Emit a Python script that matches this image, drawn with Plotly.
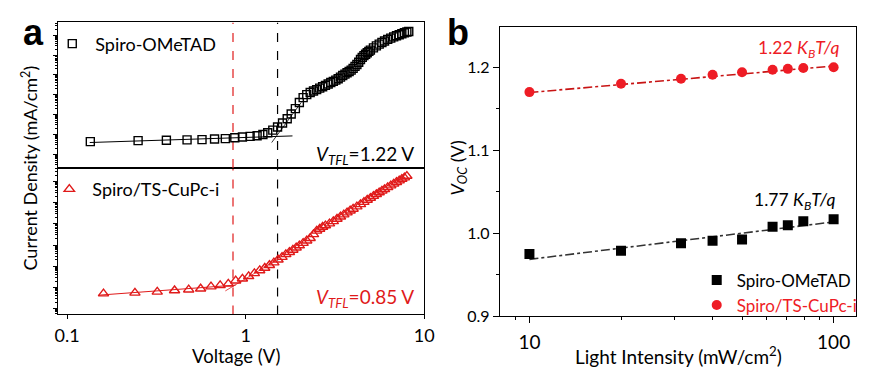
import plotly.graph_objects as go

# ---------------- Panel a data (J-V, log-log) ----------------
v_spiro = [0.135, 0.25, 0.36, 0.47, 0.57, 0.67, 0.77, 0.87, 0.96, 1.06, 1.16, 1.25, 1.33, 1.42,
           1.51, 1.61, 1.71, 1.80, 1.90, 2.00, 2.10, 2.20, 2.30, 2.40, 2.50, 2.60, 2.70, 2.80,
           2.90, 3.00, 3.10, 3.20, 3.30, 3.40, 3.50, 3.60, 3.70, 3.80, 3.90, 4.00, 4.10, 4.20,
           4.30, 4.40, 4.50, 4.60, 4.70, 4.80, 4.90, 5.00, 5.20, 5.40, 5.60, 5.80, 6.00, 6.25,
           6.50, 6.75, 7.00, 7.25, 7.50, 7.75, 8.00, 8.20]
j_spiro = [4.35e-5, 4.89e-5, 5.05e-5, 5.28e-5, 5.47e-5, 5.92e-5, 6.12e-5, 6.85e-5, 7.43e-5,
           7.94e-5, 8.61e-5, 9.97e-5, 1.21e-4, 1.64e-4, 2.38e-4, 3.75e-4, 6.11e-4, 1.07e-3,
           2.0e-3, 4.05e-3, 7.13e-3, 1.01e-2, 1.29e-2, 1.54e-2, 1.80e-2, 2.14e-2, 2.51e-2,
           2.94e-2, 3.48e-2, 4.12e-2, 4.72e-2, 5.41e-2, 6.34e-2, 7.69e-2, 9.31e-2, 0.109,
           0.128, 0.147, 0.174, 0.213, 0.267, 0.335, 0.431, 0.590, 0.759, 0.929, 1.10, 1.31,
           1.53, 1.77, 2.30, 2.88, 3.53, 4.29, 5.08, 6.15, 7.13, 8.17, 9.27, 10.5, 11.7, 13.2,
           14.4, 15.4]

v_cupc = [0.16, 0.24, 0.32, 0.40, 0.48, 0.56, 0.64, 0.72, 0.80, 0.88, 0.96, 1.04, 1.12, 1.20,
          1.28, 1.36, 1.44, 1.52, 1.60, 1.68, 1.76, 1.84, 1.92, 2.00, 2.10, 2.20, 2.30, 2.40,
          2.50, 2.60, 2.70, 2.80, 2.95, 3.10, 3.25, 3.40, 3.55, 3.70, 3.85, 4.00, 4.20, 4.40,
          4.60, 4.80, 5.00, 5.20, 5.40, 5.60, 5.80, 6.00, 6.25, 6.50, 6.75, 7.00, 7.25, 7.50,
          7.75, 8.00]
j_cupc = [5.08e-5, 5.47e-5, 6.10e-5, 7.15e-5, 7.78e-5, 8.65e-5, 1.09e-4, 1.24e-4, 1.47e-4,
          2.07e-4, 2.55e-4, 3.33e-4, 4.58e-4, 6.31e-4, 8.22e-4, 1.11e-3, 1.48e-3, 2.03e-3,
          2.70e-3, 3.61e-3, 4.60e-3, 5.88e-3, 7.50e-3, 9.46e-3, 1.24e-2, 1.61e-2, 2.10e-2,
          3.21e-2, 4.67e-2, 5.77e-2, 7.13e-2, 8.37e-2, 0.1035, 0.132, 0.171, 0.218, 0.275,
          0.340, 0.421, 0.509, 0.658, 0.839, 1.07, 1.35, 1.67, 2.05, 2.51, 3.04, 3.64, 4.31,
          5.33, 6.46, 7.82, 9.36, 11.1, 13.2, 15.4, 18.3]

# fit lines (V, J)
fit_spiro_ohm_v = [0.134, 1.83]
fit_spiro_ohm_j = [3.9e-5, 8.4e-5]
fit_spiro_tfl_v = [1.40, 2.05]
fit_spiro_tfl_j = [3.9e-5, 4.1e-3]
fit_cupc_ohm_v = [0.150, 0.88]
fit_cupc_ohm_j = [4.28e-5, 1.28e-4]
fit_cupc_tfl_v = [0.77, 1.50]
fit_cupc_tfl_j = [6.8e-5, 2.03e-3]

vtfl_lines = [0.85, 1.51]          # dashed vertical markers (red, black)
vtfl_labels = ["1.22 V", "0.85 V"]

x_range_a = [-1.05, 1.0]          # log10 range
y_range_top = [-5.689, 1.640]
y_range_bot = [-5.277, 1.645]

# ---------------- Panel b data (Voc vs light intensity) ----------------
intensity = [10, 20, 31.5, 40, 50, 63, 70.7, 79.5, 100]
voc_spiro = [0.975, 0.979, 0.988, 0.991, 0.9925, 1.008, 1.0098, 1.0145, 1.017]
voc_cupc = [1.170, 1.180, 1.186, 1.191, 1.194, 1.197, 1.198, 1.199, 1.200]
fit_int = [10, 100]
fit_voc_spiro = [0.9686, 1.0137]
fit_voc_cupc = [1.1695, 1.2015]
slope_labels = ["1.77", "1.22"]

x_range_b = [0.903, 2.074]
y_range_b = [0.9, 1.248]

W, H = 874, 381
FONT = "Lato"
RED = "#e01a1a"
RED_B = "#ee1c25"

def px(x):
    return x / W

def py(y):
    return 1 - y / H

fig = go.Figure()

# --- top panel (x2, y2)
fig.add_trace(go.Scatter(x=fit_spiro_ohm_v, y=fit_spiro_ohm_j, mode="lines",
                         line=dict(color="black", width=1), xaxis="x2", yaxis="y2", showlegend=False))
fig.add_trace(go.Scatter(x=fit_spiro_tfl_v, y=fit_spiro_tfl_j, mode="lines",
                         line=dict(color="black", width=0.8), xaxis="x2", yaxis="y2", showlegend=False))
for xv, col in zip(vtfl_lines, [RED, "black"]):
    fig.add_trace(go.Scatter(x=[xv, xv], y=[10 ** y_range_top[0], 10 ** y_range_top[1]], mode="lines",
                             line=dict(color=col, width=1.2, dash="dash"), xaxis="x2", yaxis="y2",
                             showlegend=False))
    fig.add_trace(go.Scatter(x=[xv, xv], y=[10 ** y_range_bot[0], 10 ** y_range_bot[1]], mode="lines",
                             line=dict(color=col, width=1.2, dash="dash"), xaxis="x", yaxis="y",
                             showlegend=False))
fig.add_trace(go.Scatter(x=v_spiro, y=j_spiro, mode="markers", name="Spiro-OMeTAD",
                         marker=dict(symbol="square-open", size=8, color="black", line=dict(width=1.4)),
                         xaxis="x2", yaxis="y2", legend="legend"))

# --- bottom panel (x, y)
fig.add_trace(go.Scatter(x=fit_cupc_ohm_v, y=fit_cupc_ohm_j, mode="lines",
                         line=dict(color=RED, width=1), xaxis="x", yaxis="y", showlegend=False))
fig.add_trace(go.Scatter(x=fit_cupc_tfl_v, y=fit_cupc_tfl_j, mode="lines",
                         line=dict(color=RED, width=0.8), xaxis="x", yaxis="y", showlegend=False))
fig.add_trace(go.Scatter(x=v_cupc, y=j_cupc, mode="markers", name="Spiro/TS-CuPc-i",
                         marker=dict(symbol="triangle-up-open", size=9, color=RED, line=dict(width=1.4)),
                         xaxis="x", yaxis="y", legend="legend2"))

# --- panel b (x3, y3)
fig.add_trace(go.Scatter(x=fit_int, y=fit_voc_cupc, mode="lines",
                         line=dict(color="#c81414", width=1.6, dash="dashdot"),
                         xaxis="x3", yaxis="y3", showlegend=False))
fig.add_trace(go.Scatter(x=fit_int, y=fit_voc_spiro, mode="lines",
                         line=dict(color="#333333", width=1.6, dash="dashdot"),
                         xaxis="x3", yaxis="y3", showlegend=False))
fig.add_trace(go.Scatter(x=intensity, y=voc_spiro, mode="markers", name="Spiro-OMeTAD",
                         marker=dict(symbol="square", size=10, color="black"),
                         xaxis="x3", yaxis="y3", legend="legend3"))
fig.add_trace(go.Scatter(x=intensity, y=voc_cupc, mode="markers",
                         name="<span style='color:%s'>Spiro/TS-CuPc-i</span>" % RED_B,
                         marker=dict(symbol="circle", size=10, color=RED_B),
                         xaxis="x3", yaxis="y3", legend="legend3"))

axis_common = dict(showline=True, linecolor="black", linewidth=1.2, showgrid=False, zeroline=False,
                   mirror=True, tickcolor="black")

a_dom = [px(55), px(427)]
fig.update_layout(
    width=W, height=H, autosize=False,
    margin=dict(l=0, r=0, t=0, b=0),
    paper_bgcolor="white", plot_bgcolor="white",
    font=dict(family=FONT, color="black", size=18),
    xaxis=dict(axis_common, type="log", domain=a_dom, range=x_range_a, anchor="y",
               ticks="outside", ticklen=4, tickwidth=1.2, tickvals=[0.1, 1, 10],
               ticktext=["0.1", "1", "10"], tickfont=dict(size=18), ticklabelstandoff=1),
    yaxis=dict(axis_common, type="log", domain=[py(322), py(172)], range=y_range_bot, anchor="x",
               ticks="outside", ticklen=4, tickwidth=1.2, dtick=1, showticklabels=False,
               minor=dict(ticks="outside", ticklen=2, tickcolor="black")),
    xaxis2=dict(axis_common, type="log", domain=a_dom, range=x_range_a, anchor="y2",
                matches="x", ticks="", showticklabels=False),
    yaxis2=dict(axis_common, type="log", domain=[py(172), py(23)], range=y_range_top, anchor="x2",
                ticks="outside", ticklen=4, tickwidth=1.2, dtick=1, showticklabels=False,
                minor=dict(ticks="outside", ticklen=2, tickcolor="black")),
    xaxis3=dict(axis_common, type="log", domain=[px(504), px(866)], range=x_range_b, anchor="y3",
                ticks="outside", ticklen=6, tickwidth=1.2, tickvals=[10, 100], ticktext=["10", "100"],
                tickfont=dict(size=19), ticklabelstandoff=3,
                minor=dict(ticks="outside", ticklen=3, tickcolor="black",
                           tickvals=[9, 20, 30, 40, 50, 60, 70, 80, 90])),
    yaxis3=dict(axis_common, domain=[py(324), py(28)], range=y_range_b, anchor="x3",
                ticks="outside", ticklen=6, tickwidth=1.2, tickvals=[0.9, 1.0, 1.1, 1.2],
                ticktext=["0.9", "1.0", "1.1", "1.2"], tickfont=dict(size=16),
                minor=dict(ticks="outside", ticklen=3, tickcolor="black", dtick=0.05)),
    legend=dict(x=px(46), y=py(45), xanchor="left", yanchor="middle", bgcolor="rgba(0,0,0,0)",
                font=dict(size=18), itemwidth=36),
    legend2=dict(x=px(43), y=py(194), xanchor="left", yanchor="middle", bgcolor="rgba(0,0,0,0)",
                 font=dict(size=18), itemwidth=36),
    legend3=dict(x=px(704), y=py(300), xanchor="left", yanchor="middle", bgcolor="rgba(0,0,0,0)",
                 font=dict(size=17)),
)

ann = []
ann.append(dict(text="<b>a</b>", x=px(30), y=py(33), font=dict(family="Liberation Sans", size=36)))
ann.append(dict(text="<b>b</b>", x=px(461), y=py(33), font=dict(family="Liberation Sans", size=36)))
ann.append(dict(text="Current Density (mA/cm<sup>2</sup>)", x=px(26), y=py(172), textangle=-90,
                font=dict(size=18)))
ann.append(dict(text="Voltage (V)", x=px(236), y=py(365), font=dict(size=18.5)))
ann.append(dict(text="Light Intensity (mW/cm<sup>2</sup>)", x=px(685), y=py(364), font=dict(size=19)))
ann.append(dict(text="<i>V</i><sub><i>OC</i></sub> (V)", x=px(462), y=py(172), textangle=-90,
                font=dict(size=18)))
ann.append(dict(text="<i>V</i><sub><i>TFL</i></sub>=" + vtfl_labels[0], x=px(419), y=py(159),
                xanchor="right", font=dict(size=19)))
ann.append(dict(text="<i>V</i><sub><i>TFL</i></sub>=" + vtfl_labels[1], x=px(419), y=py(305),
                xanchor="right", font=dict(size=19, color=RED)))
ann.append(dict(text=slope_labels[1] + " <i>K</i><sub><i>B</i></sub><i>T/q</i>", x=px(851), y=py(50),
                xanchor="right", font=dict(size=17.5, color=RED_B)))
ann.append(dict(text=slope_labels[0] + " <i>K</i><sub><i>B</i></sub><i>T/q</i>", x=px(847), y=py(206),
                xanchor="right", font=dict(size=17.5)))
for a in ann:
    a.setdefault("xanchor", "center")
    a.update(xref="paper", yref="paper", showarrow=False, yanchor="middle")
fig.update_layout(annotations=ann)

post = ("document.documentElement.style.margin='0px';"
        "document.body.style.margin='0px';"
        "document.documentElement.style.overflow='hidden';"
        "document.body.style.overflow='hidden';"
        "var d=document.getElementById('{plot_id}');"
        "d.style.position='fixed';d.style.left='0px';d.style.top='0px';")
fig.write_html("out.html", config={"displayModeBar": False}, post_script=post)
